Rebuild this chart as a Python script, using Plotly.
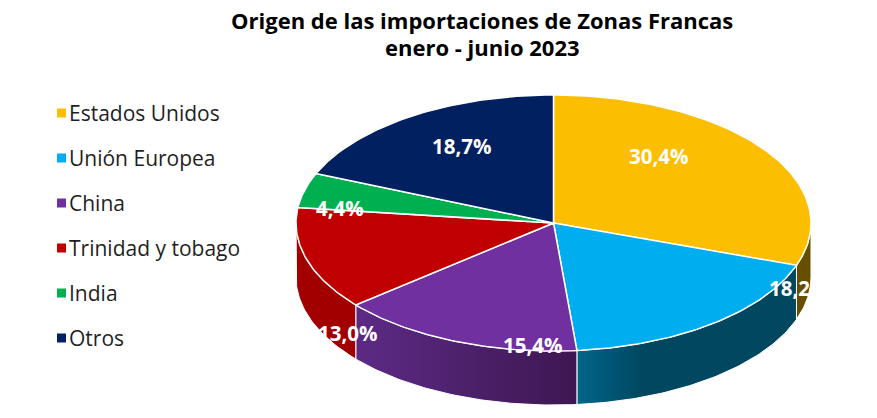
import numpy as np
import plotly.graph_objects as go

# datos
categorias = ["Estados Unidos", "Unión Europea", "China", "Trinidad y tobago", "India", "Otros"]
participacion = [30.4, 18.2, 15.4, 13.0, 4.4, 18.7]
titulo = ["Origen de las importaciones de Zonas Francas", "enero - junio 2023"]

# estilo
colores = ["#FBBE00", "#00AEEF", "#7030A0", "#C00000", "#00B050", "#002060"]
# color de la pared lateral (izquierda -> derecha)
colores_pared = [
    [[0, "#665000"], [1, "#665000"]],
    [[0, "#00668A"], [0.3, "#00475F"], [1, "#00475F"]],
    [[0, "#5C2A86"], [1, "#3E1751"]],
    [[0, "#A20000"], [1, "#A20000"]],
    [[0, "#008040"], [1, "#008040"]],
    [[0, "#001440"], [1, "#001440"]],
]
# donde va el texto de cada porcentaje (px)
pos_etiquetas = [(658, 156), (798, 288), (532, 345), (347, 333), (340, 208), (461, 146)]

W, H = 877, 418
CX, CY = 553.5, 223.0  # centro de la elipse superior
RX, RY = 257.5, 128.0
DEPTH = 54.0


def punto(theta):
    return CX + RX * np.sin(theta), CY - RY * np.cos(theta)


total = sum(participacion)
limites = np.concatenate([[0], np.cumsum(participacion)]) / total * 2 * np.pi

fig = go.Figure()

# paredes laterales (solo la mitad del frente)
for i, v in enumerate(participacion):
    a = max(limites[i], np.pi / 2)
    b = min(limites[i + 1], 3 * np.pi / 2)
    if a >= b:
        continue
    t = np.linspace(a, b, max(3, int((b - a) * 60)))
    x, y = punto(t)
    xs = list(x) + list(x[::-1]) + [x[0]]
    ys = list(y) + list((y + DEPTH)[::-1]) + [y[0]]
    fig.add_trace(go.Scatter(
        x=xs, y=ys, mode="lines", fill="toself",
        fillgradient=dict(type="horizontal", colorscale=colores_pared[i]),
        line=dict(color="white", width=1),
        hoverinfo="skip", showlegend=False))

# caras superiores
for i, v in enumerate(participacion):
    t = np.linspace(limites[i], limites[i + 1], max(3, int(v * 4)))
    x, y = punto(t)
    xs = [CX] + list(x) + [CX]
    ys = [CY] + list(y) + [CY]
    fig.add_trace(go.Scatter(
        x=xs, y=ys, mode="lines", fill="toself", fillcolor=colores[i],
        line=dict(color="white", width=1.5),
        name=categorias[i], hoverinfo="name", showlegend=False))

# leyenda
leg_y = [113 + 45 * i for i in range(len(categorias))]
fig.add_trace(go.Scatter(
    x=[61.5] * len(categorias), y=leg_y, mode="markers",
    marker=dict(symbol="square", size=9, color=colores, line=dict(width=0)),
    hoverinfo="skip", showlegend=False))

anotaciones = []
for i, cat in enumerate(categorias):
    anotaciones.append(dict(
        x=67, y=leg_y[i], text=cat, xanchor="left", yanchor="middle",
        showarrow=False, font=dict(family="Open Sans", size=21, color="#1f1f1f")))

for i, v in enumerate(participacion):
    px, py = pos_etiquetas[i]
    anotaciones.append(dict(
        x=px, y=py, text="<b>" + f"{v:.1f}%".replace(".", ",") + "</b>",
        xanchor="center", yanchor="middle", showarrow=False,
        font=dict(family="Open Sans", size=20.5, color="white")))

# titulo en dos lineas
for linea, y in zip(titulo, [20, 47]):
    anotaciones.append(dict(
        x=482, y=y, text="<b>" + linea + "</b>", xanchor="center", yanchor="middle",
        showarrow=False, font=dict(family="Open Sans", size=22, color="black")))

fig.update_layout(
    width=W, height=H,
    margin=dict(l=0, r=0, t=0, b=0),
    paper_bgcolor="white", plot_bgcolor="white",
    xaxis=dict(range=[0, W], visible=False, fixedrange=True),
    yaxis=dict(range=[H, 0], visible=False, fixedrange=True),
    annotations=anotaciones,
    showlegend=False,
)

fig.write_html("out.html", config={"displayModeBar": False},
               post_script="document.body.style.margin='0';")
